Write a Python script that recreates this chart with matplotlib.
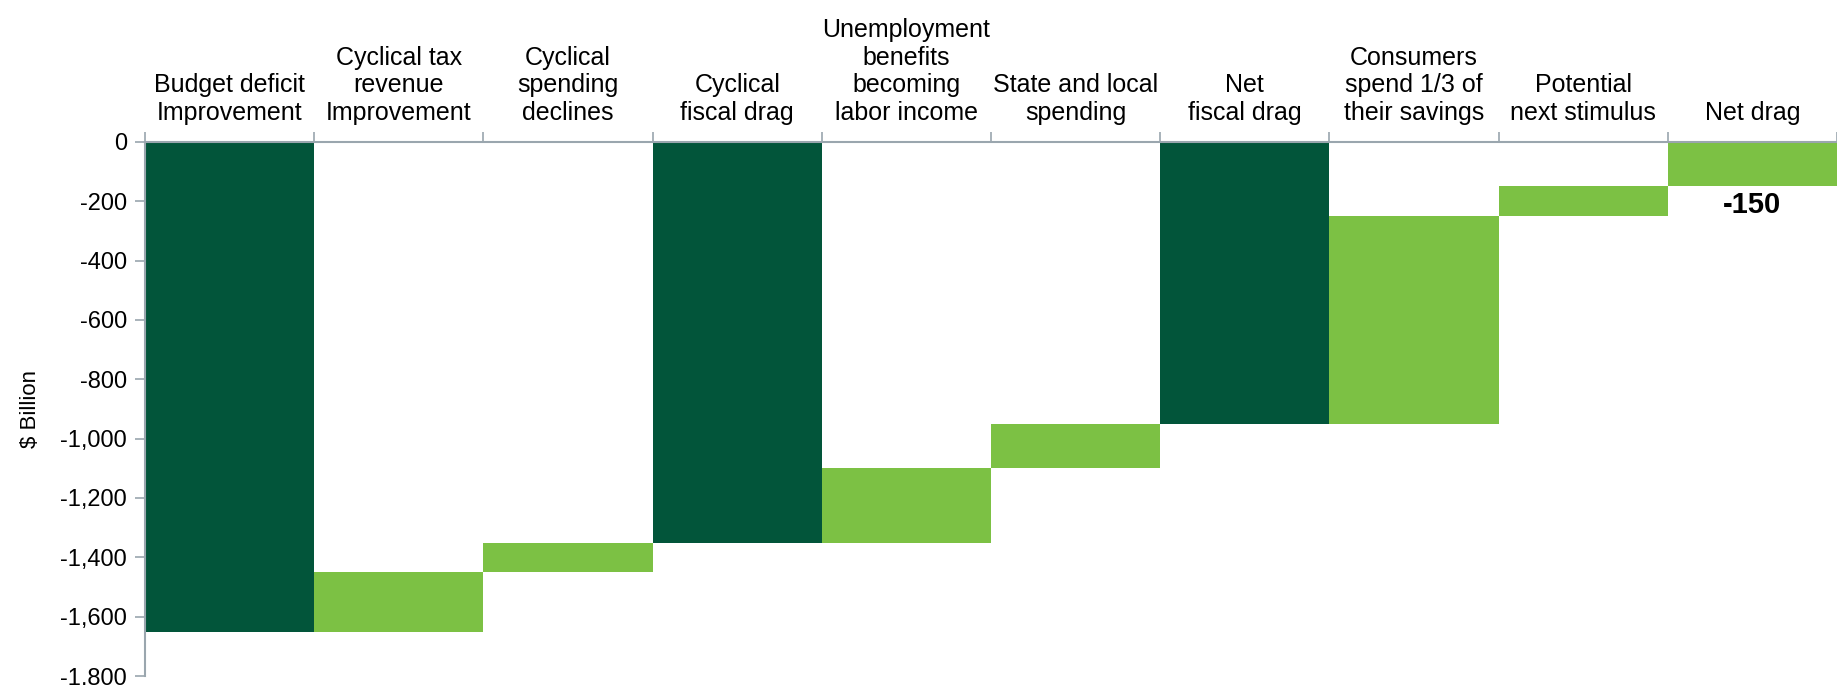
import matplotlib
matplotlib.use('Agg')
import matplotlib.pyplot as plt
from matplotlib.ticker import FuncFormatter

plt.rcParams['font.family'] = ['Liberation Sans', 'DejaVu Sans']

# 데이터
categories = ['Budget deficit\nImprovement', 'Cyclical tax\nrevenue\nImprovement',
              'Cyclical\nspending\ndeclines', 'Cyclical\nfiscal drag',
              'Unemployment\nbenefits\nbecoming\nlabor income', 'State and local\nspending',
              'Net\nfiscal drag', 'Consumers\nspend 1/3 of\ntheir savings',
              'Potential\nnext stimulus', 'Net drag']
changes = [-1650, 200, 100, 0, 250, 150, 0, 700, 100, 0]
kinds = ['start', 'change', 'change', 'total', 'change', 'change', 'total', 'change', 'change', 'end']
end_label = '-150'

dark = '#02553A'
light = '#7CC144'
colors = {'start': dark, 'total': dark, 'change': light, 'end': light}

# 막대 위치 계산
bottoms = []
heights = []
level = 0
for c, k in zip(changes, kinds):
    if k == 'start':
        level = c
        bottoms.append(0)
        heights.append(c)
    elif k == 'change':
        bottoms.append(level)
        heights.append(c)
        level += c
    else:
        bottoms.append(0)
        heights.append(level)

fig = plt.figure(figsize=(18.37, 6.85), dpi=100)
ax = fig.add_axes([0.079, 0.013, 0.921, 0.78])

x = list(range(len(categories)))
ax.bar(x, heights, bottom=bottoms, width=1.0, color=[colors[k] for k in kinds],
       linewidth=0, zorder=2)

ax.set_xlim(-0.5, len(categories) - 0.5)
ax.set_ylim(-1800, 0)
ax.set_yticks(range(-1800, 1, 200))
ax.yaxis.set_major_formatter(FuncFormatter(lambda v, p: f'{int(v):,}'))

# x축 위쪽
ax.xaxis.tick_top()
ax.set_xticks([i - 0.5 for i in range(len(categories) + 1)])
ax.set_xticklabels([])
ax.set_xticks(x, minor=True)
ax.set_xticklabels(categories, minor=True, fontsize=18, linespacing=1.2)
ax.tick_params(axis='x', which='minor', length=0, pad=12)
ax.tick_params(axis='x', which='major', length=7, color='#9AA6AE', width=1.2)
ax.tick_params(axis='y', length=7, color='#9AA6AE', width=1.2, labelsize=17, pad=6)

for s in ['right', 'bottom']:
    ax.spines[s].set_visible(False)
for s in ['left', 'top']:
    ax.spines[s].set_color('#9AA6AE')
    ax.spines[s].set_linewidth(1.5)
    ax.spines[s].set_zorder(3)

ax.set_ylabel('$ Billion', fontsize=16, labelpad=14)

ax.text(x[-1], heights[-1] - 15, end_label, ha='center', va='top',
        fontsize=21, fontweight='bold')

fig.savefig('out.png', dpi=100)
